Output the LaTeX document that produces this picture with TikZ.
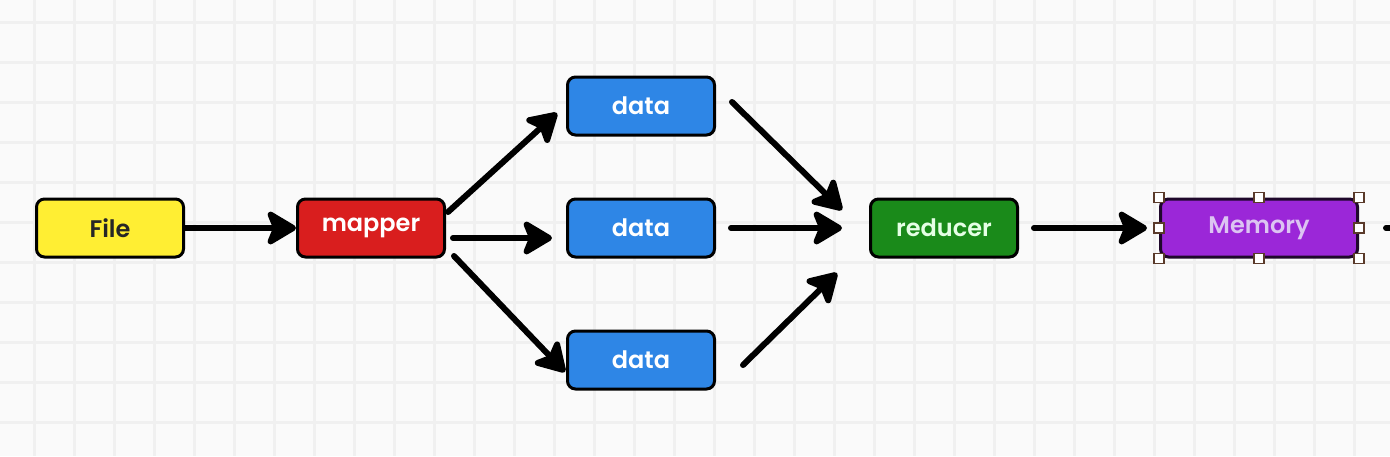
\documentclass[tikz,border=0pt]{standalone}
\usepackage{fontspec}
\setmainfont{Poppins}[BoldFont={Poppins SemiBold}]
\usetikzlibrary{arrows.meta,calc}

\definecolor{bgcol}{HTML}{FAFAFA}
\definecolor{gridcol}{HTML}{F0F0F0}
\definecolor{filecol}{HTML}{FFEE33}
\definecolor{mapcol}{HTML}{D91E1E}
\definecolor{datacol}{HTML}{2E86E6}
\definecolor{redcol}{HTML}{1A8A1A}
\definecolor{memcol}{HTML}{9B27D8}
\definecolor{memtext}{HTML}{DCC4F2}
\definecolor{handlecol}{HTML}{5A3A2A}

\begin{document}
\begin{tikzpicture}[x=0.5pt, y=-0.5pt,
	box/.style={draw=black, line width=1.5pt, rounded corners=4pt,
		minimum width=73.5pt, minimum height=29pt, inner sep=0pt,
		font=\fontsize{12}{14}\selectfont\bfseries},
	gridline/.style={gridcol, line width=1.5pt},
	flow/.style={line width=3pt, line cap=round,
		-{Stealth[length=17pt, width=20pt, inset=4pt, round]}},
	handle/.style={draw=handlecol, fill=white, line width=0.7pt,
		minimum size=5pt, inner sep=0pt}]
	\useasboundingbox (0,0) rectangle (1390,456);
	\clip (0,0) rectangle (1390,456);
	
	% draw background grid
	\fill [bgcol] (0,0) rectangle (1390,456);
	\foreach \x in {34,74,...,1394}
	\draw [gridline] (\x,0) -- (\x,456);
	\foreach \y in {22,62,...,462}
	\draw [gridline] (0,\y) -- (1390,\y);
	
	% draw nodes
	\node [box, fill=filecol, text=black!85] (file) at (110,228) {File};
	\node [box, fill=mapcol, text=white] (mapper) at (371,228) {mapper};
	\node [box, fill=datacol, text=white] (data1) at (641,106) {data};
	\node [box, fill=datacol, text=white] (data2) at (641,228) {data};
	\node [box, fill=datacol, text=white] (data3) at (641,360) {data};
	\node [box, fill=redcol, text=white!90!green] (reducer) at (944,228) {reducer};
	\node [box, fill=memcol, text=memtext, minimum width=98.5pt,
		draw=black!80!memcol] (mem) at (1259,228) {Memory};
	
	% draw selection handles
	\foreach \a [count=\i] in {north west, north, north east, east,
		south east, south, south west, west}
	\node [handle] (h\i) at (mem.\a) {};
	
	% draw arrows
	\draw [flow] (file.east) -- (mapper.west);
	\draw [flow] ($(mapper.east)+(2,-16)$) -- ($(data1.west)+(-9,7)$);
	\draw [flow] ($(mapper.east)+(7,10)$) -- ($(data2.west)+(-14,10)$);
	\draw [flow] ($(mapper.east)+(8,28)$) -- ($(data3.west)+(-1,12)$);
	\draw [flow] ($(data1.east)+(16,-4)$) -- ($(reducer.west)+(-27,-18)$);
	\draw [flow] ($(data2.east)+(15,0)$) -- ($(reducer.west)+(-27,0)$);
	\draw [flow] ($(data3.east)+(27,5)$) -- ($(reducer.west)+(-32,45)$);
	\draw [flow] ($(reducer.east)+(15,0)$) -- ($(mem.west)+(-12,0)$);
	
	% arrow leaving the frame
	\coordinate (out) at ($(mem.east)+(27,0)$);
	\draw [flow] (out) -- ++(60,0);
\end{tikzpicture}
\end{document}
